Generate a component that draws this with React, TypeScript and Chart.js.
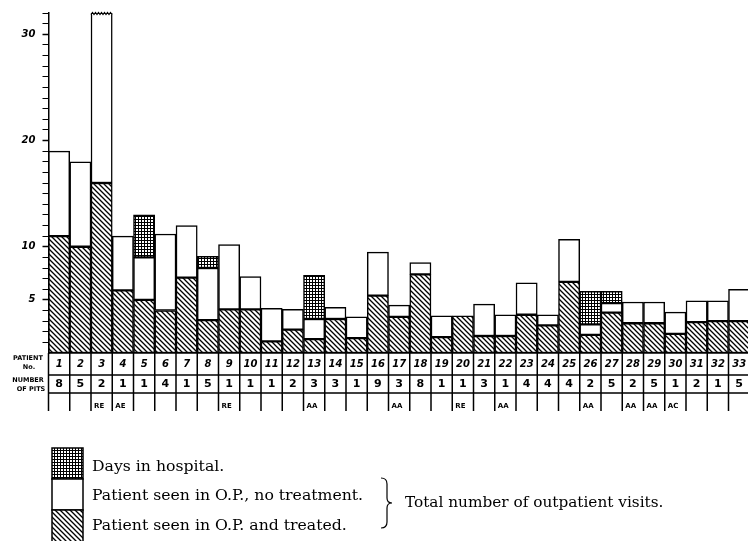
import React, { useEffect, useRef } from "react";
import { Chart, registerables } from "chart.js";
Chart.register(...registerables);

const patients = ["1","2","3","4","5","6","7","8","9","10","11","12","13","14","15","16","17","18","19","20","21","22","23","24","25","26","27","28","29","30","31","32","33"];
const pits = ["8","5","2","1","1","4","1","5","1","1","1","2","3","3","1","9","3","8","1","1","3","1","4","4","4","2","5","2","5","1","2","1","5"];
const notes = ["","","RE","AE","","","","","RE","","","","AA","","","","AA","","","RE","","AA","","","","AA","","AA","AA","AC","","",""];
const treated = [11, 10, 16, 5.9, 5, 4, 7.1, 3.1, 4.1, 4.1, 1.1, 2.2, 1.3, 3.2, 1.4, 5.4, 3.4, 7.4, 1.5, 3.5, 1.6, 1.6, 3.6, 2.6, 6.7, 1.7, 3.8, 2.8, 2.8, 1.8, 2.9, 3.0, 3.0];
const noTreatment = [8, 8, 16, 5.1, 4, 7.2, 4.9, 4.9, 6.1, 3.1, 3.1, 1.9, 1.9, 1.1, 2.0, 4.1, 1.1, 1.1, 2.0, null, 3.0, 2.0, 3.0, 1.0, 4.0, 1.0, 0.9, 2.0, 2.0, 2.05, 2.0, 1.9, 3.0];
const hospital = [null, null, null, null, 4, null, null, 1.1, null, null, null, null, 4.1, null, null, null, null, null, null, null, null, null, null, null, null, 3.1, 1.1, null, null, null, null, null, null];
const yTickValues = [1,2,3,4,5,6,7,8,9,10,11,12,13,14,15,16,17,18,19,20,21,22,23,24,25,26,27,28,29,30,31,32];
const yLabels = [5, 10, 20, 30];
const brokenBar = 2; // index of the bar drawn with a broken top
const legendItems = ["Days in hospital.", "Patient seen in O.P., no treatment.", "Patient seen in O.P. and treated."];
const braceLabel = "Total number of outpatient visits.";

function makeHatch(ctx: CanvasRenderingContext2D) {
  const c = document.createElement("canvas");
  c.width = 5; c.height = 5;
  const g = c.getContext("2d")!;
  g.fillStyle = "#fff"; g.fillRect(0, 0, 5, 5);
  g.strokeStyle = "#000"; g.lineWidth = 1.3;
  g.beginPath();
  g.moveTo(-1, -1); g.lineTo(6, 6);
  g.moveTo(-1, 4); g.lineTo(1, 6);
  g.moveTo(4, -1); g.lineTo(6, 1);
  g.stroke();
  return ctx.createPattern(c, "repeat")!;
}
function makeGrid(ctx: CanvasRenderingContext2D) {
  const c = document.createElement("canvas");
  c.width = 3; c.height = 3;
  const g = c.getContext("2d")!;
  g.fillStyle = "#fff"; g.fillRect(0, 0, 3, 3);
  g.fillStyle = "#000"; g.fillRect(0, 0, 3, 1); g.fillRect(0, 0, 1, 3);
  return ctx.createPattern(c, "repeat")!;
}

export default function App() {
  const ref = useRef<HTMLCanvasElement>(null);
  useEffect(() => {
    document.body.style.margin = "0";
    const canvas = ref.current!;
    const ctx0 = canvas.getContext("2d")!;
    const hatch = makeHatch(ctx0);
    const grid = makeGrid(ctx0);

    const tablePlugin = {
      id: "tablePlugin",
      afterDraw(chart: any) {
        const { ctx, chartArea, scales } = chart;
        const xs = scales.x;
        const n = patients.length;
        const colW = chartArea.width / n;
        const top = chartArea.bottom;
        const r1 = top + 22, r2 = top + 40, r3 = top + 58;
        const left = xs.getPixelForValue(0) - colW / 2;
        ctx.save();
        // broken top on bar 3
        const meta = chart.getDatasetMeta(1);
        const el = meta.data[brokenBar];
        if (el) {
          const bx0 = el.x - el.width / 2, bx1 = el.x + el.width / 2;
          ctx.fillStyle = "#fff";
          ctx.fillRect(bx0 + 1, chartArea.top - 2, bx1 - bx0 - 2, 4);
          ctx.strokeStyle = "#000"; ctx.lineWidth = 1.2;
          ctx.beginPath();
          let up = true;
          ctx.moveTo(bx0, chartArea.top + 1.5);
          for (let xx = bx0 + 1.5; xx <= bx1 + 0.1; xx += 1.5) {
            ctx.lineTo(xx, chartArea.top + (up ? -0.5 : 1.5));
            up = !up;
          }
          ctx.stroke();
        }
        ctx.strokeStyle = "#000"; ctx.lineWidth = 1.5;
        ctx.beginPath();
        [top, r1, r2].forEach((y) => { ctx.moveTo(left, y); ctx.lineTo(chart.width, y); });
        for (let i = 0; i <= n; i++) {
          const xp = xs.getPixelForValue(i) - colW / 2;
          ctx.moveTo(xp, top); ctx.lineTo(xp, r3);
        }
        ctx.stroke();
        ctx.fillStyle = "#000";
        ctx.textAlign = "center"; ctx.textBaseline = "middle";
        for (let i = 0; i < n; i++) {
          const cx = xs.getPixelForValue(i);
          ctx.font = "bold italic 10px 'DejaVu Sans'";
          ctx.fillText(patients[i], cx, (top + r1) / 2 + 0.5);
          ctx.font = "bold 11px 'DejaVu Sans'";
          ctx.fillText(pits[i], cx, (r1 + r2) / 2 + 0.5);
          if (notes[i]) {
            ctx.font = "bold 7px 'DejaVu Sans'";
            ctx.textAlign = "left";
            ctx.fillText(notes[i], cx - colW / 2 + 3, r2 + 13);
            ctx.textAlign = "center";
          }
        }
        ctx.font = "bold 6.5px 'DejaVu Sans'";
        ctx.fillText("PATIENT", 28, top + 5);
        ctx.fillText("No.", 29, top + 14);
        ctx.fillText("NUMBER", 28, top + 27);
        ctx.fillText("OF PITS", 31, top + 36);

        // legend
        const lx0 = 52, lx1 = 83;
        const boxes: [number, number, CanvasPattern | string][] = [[448, 479, grid], [479, 510, "#fff"], [510, 545, hatch]];
        boxes.forEach(([y0, y1, fill]) => {
          ctx.fillStyle = fill as any;
          ctx.fillRect(lx0, y0, lx1 - lx0, y1 - y0);
          ctx.strokeStyle = "#000"; ctx.lineWidth = 1.5;
          ctx.strokeRect(lx0, y0, lx1 - lx0, y1 - y0);
        });
        ctx.fillStyle = "#000";
        ctx.textAlign = "left"; ctx.textBaseline = "alphabetic";
        ctx.font = "15.7px 'DejaVu Serif'";
        const baselines = [470.5, 500, 529.5];
        legendItems.forEach((t, i) => ctx.fillText(t, 92, baselines[i]));
        ctx.font = "15.3px 'DejaVu Serif'";
        ctx.fillText(braceLabel, 405, 506.5);
        // brace
        ctx.lineWidth = 1.2;
        ctx.beginPath();
        ctx.moveTo(381, 478);
        ctx.quadraticCurveTo(387, 478, 387, 484);
        ctx.lineTo(387, 498);
        ctx.quadraticCurveTo(387, 503, 392, 503);
        ctx.quadraticCurveTo(387, 503, 387, 508);
        ctx.lineTo(387, 522);
        ctx.quadraticCurveTo(387, 528, 381, 528);
        ctx.stroke();
        ctx.restore();
      },
    };

    const common = { borderColor: "#000", borderWidth: 1.5, borderSkipped: false as const, barPercentage: 1, categoryPercentage: 1 };
    const chart = new Chart(canvas, {
      type: "bar",
      data: {
        labels: patients,
        datasets: [
          { label: legendItems[2], data: treated, backgroundColor: hatch, ...common },
          { label: legendItems[1], data: noTreatment, backgroundColor: "#fff", ...common },
          { label: legendItems[0], data: hospital, backgroundColor: grid, ...common },
        ],
      },
      options: {
        animation: false,
        responsive: false,
        maintainAspectRatio: false,
        events: [],
        layout: { padding: { left: 0, top: 9.6, right: 760 - 749.75, bottom: 541 - 353 } },
        plugins: { legend: { display: false }, tooltip: { enabled: false } },
        scales: {
          x: { stacked: true, display: false },
          y: {
            stacked: true,
            min: 0,
            max: 32,
            afterFit: (s: any) => { s.width = 48.5; },
            afterBuildTicks: (s: any) => { s.ticks = yTickValues.map((v) => ({ value: v })); },
            ticks: {
              autoSkip: false,
              padding: 7,
              color: "#000",
              font: { family: "'DejaVu Sans'", size: 10, style: "italic", weight: "bold" },
              callback: (v: any) => (yLabels.includes(Number(v)) ? String(v) : ""),
            },
            grid: {
              drawOnChartArea: false,
              tickLength: 6,
              tickColor: "#000",
              tickWidth: (c: any) => (yLabels.includes(c.tick?.value) ? 1.5 : 1),
            },
            border: { color: "#000", width: 1.5 },
          },
        },
      },
      plugins: [tablePlugin],
    });
    return () => chart.destroy();
  }, []);
  return (
    <div style={{ width: 748, height: 541, overflow: "hidden", position: "relative", background: "#fff" }}>
      <canvas ref={ref} width={760} height={541} style={{ display: "block" }} />
    </div>
  );
}
